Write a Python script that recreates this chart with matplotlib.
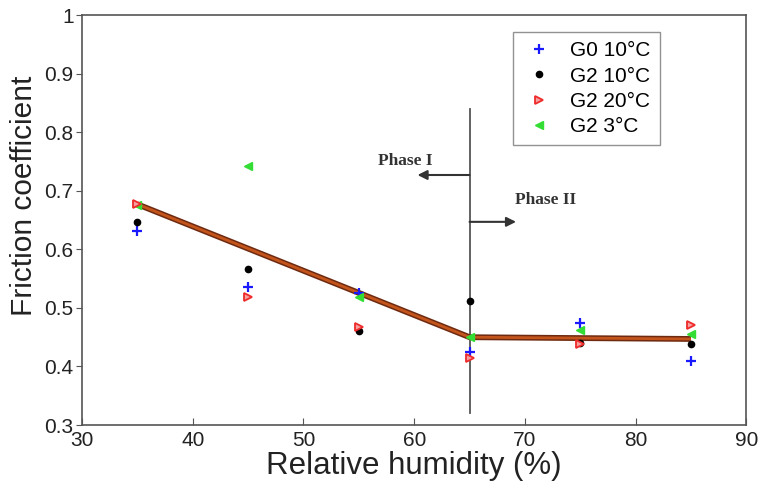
import matplotlib.pyplot as plt

# ----------------------------
# Data: friction coefficient vs relative humidity
# ----------------------------
humidity = [35, 45, 55, 65, 75, 85]

g0_10c = [0.632, 0.536, 0.526, 0.425, 0.474, 0.409]
g2_10c = [0.647, 0.566, 0.461, 0.512, 0.440, 0.439]
g2_20c = [0.678, 0.518, 0.467, 0.414, 0.439, 0.471]
g2_3c = [0.676, 0.742, 0.519, 0.450, 0.462, 0.455]

# piecewise trend (phase I slope, phase II plateau)
trend_x = [35, 65, 85]
trend_y = [0.677, 0.450, 0.447]

# phase boundary and arrows
boundary_x = 65
boundary_y = [0.32, 0.84]
phase1_arrow = (0.727, 60.3)
phase2_arrow = (0.647, 69.2)

# ----------------------------
# Plot
# ----------------------------
plt.rcParams["font.family"] = ["Liberation Sans", "DejaVu Sans"]

fig = plt.figure(figsize=(7.6, 4.88), dpi=100)
ax = fig.add_axes([0.108, 0.129, 0.874, 0.840])

ax.plot(trend_x, trend_y, color="#6e2a10", linewidth=4.2, solid_capstyle="butt", zorder=2)
ax.plot(trend_x, trend_y, color="#c2541c", linewidth=2.0, solid_capstyle="butt", zorder=2)

ax.plot([boundary_x, boundary_x], boundary_y, color="#555555", linewidth=1.3, zorder=1)

ax.plot(humidity, g0_10c, linestyle="none", marker="+", color="#1a1aff",
        markersize=7, markeredgewidth=1.6, label="G0 10°C", zorder=3)
ax.plot(humidity, g2_10c, linestyle="none", marker="o", color="black",
        markersize=4.5, label="G2 10°C", zorder=3)
ax.plot(humidity, g2_20c, linestyle="none", marker=">", color="#ee2a2a",
        markerfacecolor="#f7a0a0", markersize=6, markeredgewidth=1.3,
        label="G2 20°C", zorder=4)
ax.plot(humidity, g2_3c, linestyle="none", marker="<", color="#33dd33",
        markersize=6, label="G2 3°C", zorder=3)

# phase arrows
ax.annotate("", xy=(phase1_arrow[1], phase1_arrow[0]),
            xytext=(boundary_x, phase1_arrow[0]),
            arrowprops=dict(arrowstyle="-|>", color="#333333", lw=1.5,
                            mutation_scale=14, shrinkA=0, shrinkB=0))
ax.annotate("", xy=(phase2_arrow[1], phase2_arrow[0]),
            xytext=(boundary_x, phase2_arrow[0]),
            arrowprops=dict(arrowstyle="-|>", color="#333333", lw=1.5,
                            mutation_scale=14, shrinkA=0, shrinkB=0))
ax.text(56.7, 0.751, "Phase I", family="Liberation Serif", fontsize=12.5,
        fontweight="bold", color="#333333", va="center", ha="left")
ax.text(69.1, 0.685, "Phase II", family="Liberation Serif", fontsize=12.5,
        fontweight="bold", color="#333333", va="center", ha="left")

ax.set_xlim(30, 90)
ax.set_ylim(0.3, 1.0)
ax.set_xticks([30, 40, 50, 60, 70, 80, 90])
ax.set_yticks([0.3, 0.4, 0.5, 0.6, 0.7, 0.8, 0.9, 1.0])
ax.set_yticklabels(["0.3", "0.4", "0.5", "0.6", "0.7", "0.8", "0.9", "1"])

for spine in ax.spines.values():
    spine.set_color("#555555")
    spine.set_linewidth(1.2)
ax.tick_params(axis="x", direction="in", length=5, color="#555555",
               labelsize=15, labelcolor="#222222", pad=4)
ax.tick_params(axis="y", direction="out", length=4, color="#555555",
               labelsize=15, labelcolor="#222222", pad=2)

ax.set_xlabel("Relative humidity (%)", fontsize=22.5, color="#222222", labelpad=1)
ax.set_ylabel("Friction coefficient", fontsize=21.5, color="#222222")
ax.yaxis.set_label_coords(-0.067, 0.56)

leg = ax.legend(loc="upper left", bbox_to_anchor=(0.649, 0.959),
                borderaxespad=0, fontsize=15, frameon=True, fancybox=False,
                handletextpad=0.7, labelspacing=0.3, borderpad=0.45,
                handlelength=1.6)
leg.get_frame().set_edgecolor("#777777")
leg.get_frame().set_linewidth(1.0)

plt.savefig("out.png", dpi=100)
plt.close()
